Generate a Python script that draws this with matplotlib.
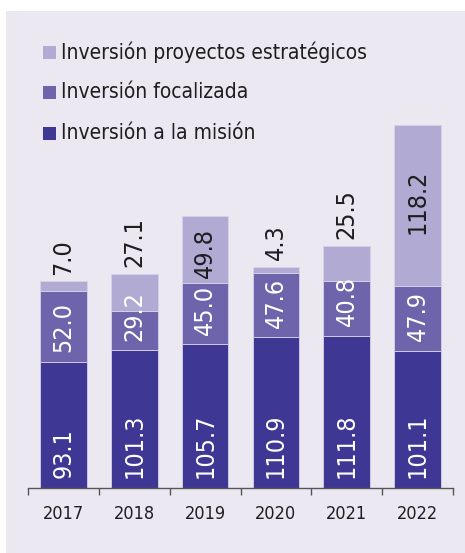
import matplotlib
matplotlib.use("Agg")
import matplotlib.pyplot as plt
from matplotlib.patches import Rectangle

plt.rcParams['font.family'] = ['DejaVu Sans']
plt.rcParams['font.stretch'] = 'condensed'

years = ["2017", "2018", "2019", "2020", "2021", "2022"]
mision = [93.1, 101.3, 105.7, 110.9, 111.8, 101.1]
focalizada = [52.0, 29.2, 45.0, 47.6, 40.8, 47.9]
estrategicos = [7.0, 27.1, 49.8, 4.3, 25.5, 118.2]
series_names = ["Inversión proyectos estratégicos", "Inversión focalizada", "Inversión a la misión"]

c_mis = "#3f3794"
c_foc = "#6e64ac"
c_est = "#b1abd4"
bg = "#ebe8f2"
txt = "#1e1e1e"

W, H = 465, 553
fig = plt.figure(figsize=(W / 100, H / 100), dpi=100)
fig.patch.set_facecolor("white")
fig.patches.append(Rectangle((6 / W, 0), 1 - 6 / W, 1 - 11 / H, transform=fig.transFigure,
                             facecolor=bg, edgecolor="none", zorder=-5))

ax = fig.add_axes([28 / W, (H - 488) / H, (453 - 28) / W, (488 - 120) / H])
ax.set_facecolor("none")
ax.set_zorder(2)
x = list(range(len(years)))
bw = 0.66
ec = "#d6d2e8"
b1 = ax.bar(x, mision, bw, color=c_mis, edgecolor=ec, linewidth=0.6)
b2 = ax.bar(x, focalizada, bw, bottom=mision, color=c_foc, edgecolor=ec, linewidth=0.6)
bot3 = [m + f for m, f in zip(mision, focalizada)]
b3 = ax.bar(x, estrategicos, bw, bottom=bot3, color=c_est, edgecolor=ec, linewidth=0.6)

ax.set_xlim(-0.5, len(years) - 0.5)
ax.set_ylim(0, 271)

fs = 18
for i in x:
    ax.annotate(f"{mision[i]:.1f}", (i, 0), xytext=(0, 7), textcoords="offset points",
                rotation=90, ha="center", va="bottom", color="white", fontsize=fs)
    ax.annotate(f"{focalizada[i]:.1f}", (i, mision[i]), xytext=(0, 7), textcoords="offset points",
                rotation=90, ha="center", va="bottom", color="white", fontsize=fs)
    top = bot3[i] + estrategicos[i]
    if estrategicos[i] > 40:
        off = -9 if estrategicos[i] < 100 else -32
        ax.annotate(f"{estrategicos[i]:.1f}", (i, top), xytext=(0, off), textcoords="offset points",
                    rotation=90, ha="center", va="top", color=txt, fontsize=fs)
    else:
        ax.annotate(f"{estrategicos[i]:.1f}", (i, top), xytext=(0, 5), textcoords="offset points",
                    rotation=90, ha="center", va="bottom", color=txt, fontsize=fs)

for s in ["top", "right", "left"]:
    ax.spines[s].set_visible(False)
ax.spines["bottom"].set_color("#555555")
ax.spines["bottom"].set_linewidth(1.0)
ax.set_yticks([])
ax.set_xticks([i - 0.5 for i in range(len(years) + 1)], minor=False)
ax.set_xticklabels([])
ax.tick_params(axis="x", which="major", direction="out", length=5, color="#555555", width=1.0)
ax.set_xticks(x, minor=True)
ax.set_xticklabels(years, minor=True, fontsize=13, color=txt)
ax.tick_params(axis="x", which="minor", length=0, pad=12)

# legend
leg_cols = [c_est, c_foc, c_mis]
leg_y = [52, 92, 133]
for name, col, yy in zip(series_names, leg_cols, leg_y):
    fig.patches.append(Rectangle((43 / W, 1 - (yy + 7) / H), 13 / W, 13 / H, transform=fig.transFigure,
                                 facecolor=col, edgecolor="none", zorder=2))
    fig.text(61 / W, 1 - yy / H, name, fontsize=15, color=txt, va="center", ha="left")

fig.savefig("out.png", dpi=100, facecolor=fig.get_facecolor())
